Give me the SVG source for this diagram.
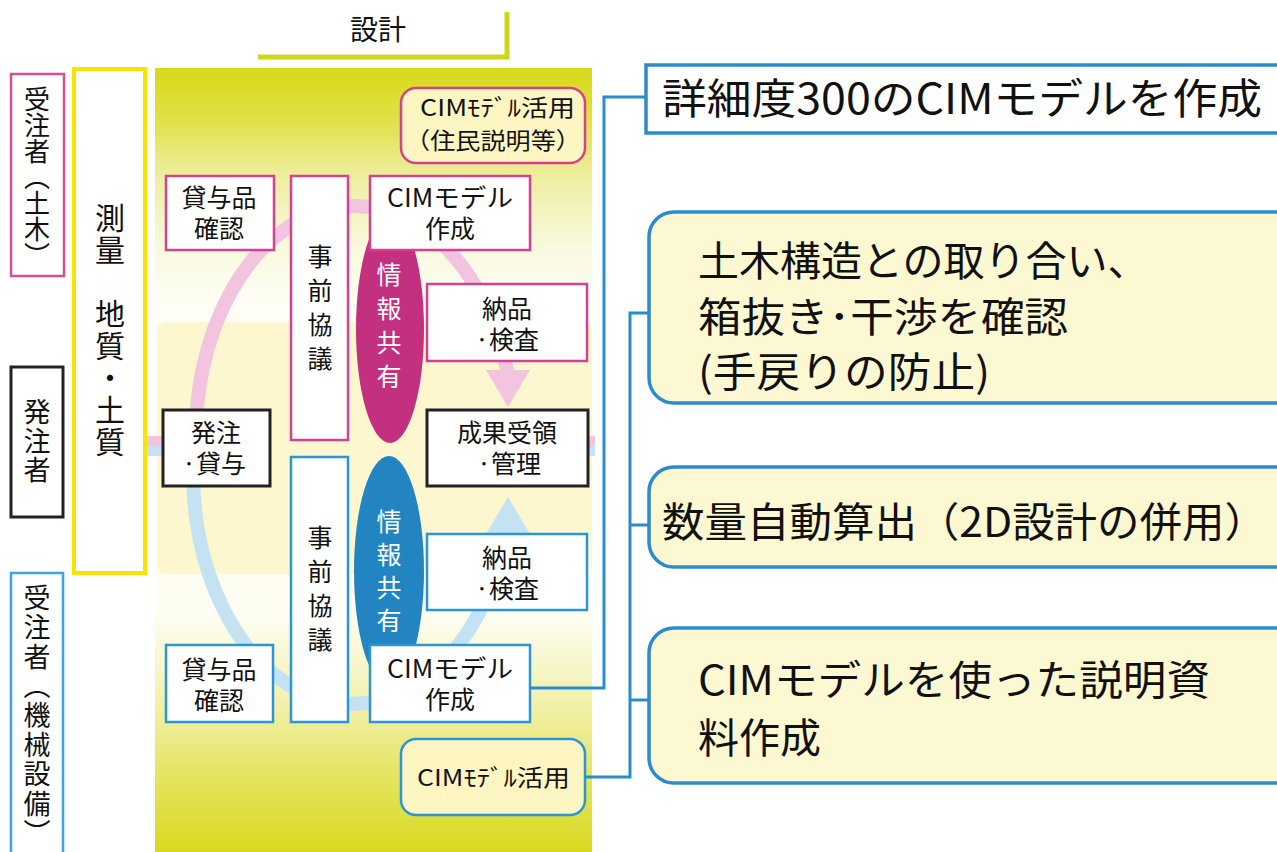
<svg xmlns="http://www.w3.org/2000/svg" width="1277" height="852" viewBox="0 0 1277 852">
<defs>
<linearGradient id="panelGrad" x1="0" y1="0" x2="0" y2="1">
<stop offset="0" stop-color="#d6d91a"/>
<stop offset="0.06" stop-color="#dfe040"/>
<stop offset="0.14" stop-color="#eeeea2"/>
<stop offset="0.23" stop-color="#f9f9de"/>
<stop offset="0.30" stop-color="#fefef6"/>
<stop offset="0.70" stop-color="#fdfdf2"/>
<stop offset="0.80" stop-color="#f3f2b2"/>
<stop offset="0.91" stop-color="#e4e35c"/>
<stop offset="1" stop-color="#d8d920"/>
</linearGradient>
<style>
.t{font-family:"Noto Sans CJK JP","Noto Sans",sans-serif;fill:#111111}
.c{text-anchor:middle}
.v{writing-mode:vertical-rl;text-anchor:start}
.w{fill:#ffffff}
.pk{fill:#ffffff;stroke:#d4428f;stroke-width:2.5}
.bl{fill:#ffffff;stroke:#2b96d6;stroke-width:2.5}
.bk{fill:#ffffff;stroke:#222222;stroke-width:3}
.rb{fill:#fcf8d2;stroke:#2b8ccc;stroke-width:3.5}
.conn{fill:none;stroke:#2b8ccc;stroke-width:3}
.bx{font-size:25px}
.big{font-size:41px}
</style>
</defs>

<g id="header">
<path d="M258 57 H507 V12" fill="none" stroke="#cfd41c" stroke-width="5"/>
<text class="t c" x="378" y="40" font-size="28">設計</text>
</g>

<g id="panel">
<rect x="155" y="68" width="437" height="784" fill="url(#panelGrad)"/>
<rect x="157" y="322" width="435" height="252" rx="9" fill="#fcf7cf"/>
</g>

<g id="cycle-arcs">
<rect x="146" y="436" width="18" height="10" fill="#f2c4e0"/>
<rect x="146" y="446" width="18" height="10" fill="#c5e2f2"/>
<rect x="587" y="436" width="8" height="10" fill="#f2c4e0"/>
<rect x="587" y="446" width="8" height="10" fill="#c5e2f2"/>
<path d="M196 448 A159 230 0 0 1 507.5 372" fill="none" stroke="#f2c4e0" stroke-width="14"/>
<polygon points="486,370 530,370 508,407" fill="#f2c4e0"/>
<path d="M194 450 A159 230 0 0 0 506 532" fill="none" stroke="#c5e2f2" stroke-width="14"/>
<polygon points="486,534 530,534 508,497" fill="#c5e2f2"/>
</g>

<g id="connectors">
<polyline class="conn" points="530,688 604,688 604,97 646,97"/>
<polyline class="conn" points="585,777 630,777 630,313 649,313"/>
<line class="conn" x1="630" y1="525" x2="649" y2="525"/>
<line class="conn" x1="630" y1="700" x2="649" y2="700"/>
</g>

<g id="role-civil">
<rect x="11" y="74" width="53" height="202" fill="#ffffff" stroke="#d94d96" stroke-width="2.5"/>
<text class="t v" x="37" y="86" font-size="26">受注者（土木）</text>
</g>
<g id="role-client">
<rect x="11" y="367" width="52" height="150" fill="#ffffff" stroke="#222222" stroke-width="3"/>
<text class="t v" x="37" y="398" font-size="27" letter-spacing="2">発注者</text>
</g>
<g id="role-mech">
<rect x="11" y="573" width="52" height="290" fill="#ffffff" stroke="#3aa6e0" stroke-width="2.5"/>
<text class="t v" x="37" y="584" font-size="27" letter-spacing="2.4">受注者（機械設備）</text>
</g>
<g id="survey">
<rect x="74" y="69" width="71" height="504" fill="#ffffff" stroke="#f7e500" stroke-width="4"/>
<text class="t v" x="110" y="203" font-size="30" letter-spacing="2">測量　地質・土質</text>
</g>

<g id="cim-use-top">
<rect x="401" y="88" width="184" height="75" rx="15" fill="#fdf6c2" stroke="#d4428f" stroke-width="2.5"/>
<text class="t" font-size="23"><tspan x="420" y="116" textLength="155" lengthAdjust="spacingAndGlyphs">CIMﾓﾃﾞﾙ活用</tspan><tspan x="405" y="149" textLength="176" lengthAdjust="spacingAndGlyphs">（住民説明等）</tspan></text>
</g>

<g id="loan-check-top">
<rect class="pk" x="166" y="176" width="108" height="74"/>
<text class="t c bx"><tspan x="219" y="207">貸与品</tspan><tspan x="219" y="238">確認</tspan></text>
</g>
<g id="prior-consult-top">
<rect class="pk" x="291" y="176" width="57" height="264"/>
<text class="t v bx" x="320" y="244" letter-spacing="9">事前協議</text>
</g>
<g id="info-share-top">
<ellipse cx="390" cy="329" rx="34" ry="114" fill="#c2307f"/>
<text class="t v w" x="389" y="262" font-size="25" letter-spacing="9">情報共有</text>
</g>
<g id="cim-create-top">
<rect class="pk" x="370" y="176" width="160" height="74"/>
<text class="t bx"><tspan x="387" y="207" textLength="126" lengthAdjust="spacingAndGlyphs">CIMモデル</tspan><tspan x="425" y="238">作成</tspan></text>
</g>
<g id="delivery-top">
<rect class="pk" x="427" y="284" width="160" height="77"/>
<text class="t c bx"><tspan x="507" y="318">納品</tspan><tspan x="507" y="349">·検査</tspan></text>
</g>

<g id="order-loan">
<rect class="bk" x="163" y="410" width="107" height="76"/>
<text class="t c bx"><tspan x="216" y="442">発注</tspan><tspan x="214" y="473">·貸与</tspan></text>
</g>
<g id="result-manage">
<rect class="bk" x="427" y="410" width="161" height="76"/>
<text class="t c bx"><tspan x="507" y="442">成果受領</tspan><tspan x="509" y="473">·管理</tspan></text>
</g>

<g id="prior-consult-bottom">
<rect class="bl" x="291" y="457" width="57" height="265"/>
<text class="t v bx" x="320" y="525" letter-spacing="9">事前協議</text>
</g>
<g id="info-share-bottom">
<ellipse cx="389" cy="571" rx="35" ry="115" fill="#2285c2"/>
<text class="t v w" x="389" y="509" font-size="25" letter-spacing="8">情報共有</text>
</g>
<g id="delivery-bottom">
<rect class="bl" x="427" y="534" width="160" height="76"/>
<text class="t c bx"><tspan x="507" y="567">納品</tspan><tspan x="507" y="598">·検査</tspan></text>
</g>
<g id="loan-check-bottom">
<rect class="bl" x="166" y="645" width="107" height="77"/>
<text class="t c bx"><tspan x="219" y="679">貸与品</tspan><tspan x="219" y="710">確認</tspan></text>
</g>
<g id="cim-create-bottom">
<rect class="bl" x="370" y="645" width="160" height="77"/>
<text class="t bx"><tspan x="387" y="678" textLength="126" lengthAdjust="spacingAndGlyphs">CIMモデル</tspan><tspan x="425" y="709">作成</tspan></text>
</g>
<g id="cim-use-bottom">
<rect x="401" y="739" width="184" height="76" rx="15" fill="#fdf6c2" stroke="#2b96d6" stroke-width="2.5"/>
<text class="t" x="417" y="786" font-size="23" textLength="153" lengthAdjust="spacingAndGlyphs">CIMﾓﾃﾞﾙ活用</text>
</g>

<g id="note-detail">
<rect x="646" y="65" width="660" height="68" fill="#ffffff" stroke="#2b8ccc" stroke-width="3.5"/>
<text class="t" x="662" y="114" font-size="42" textLength="600" lengthAdjust="spacingAndGlyphs">詳細度300のCIMモデルを作成</text>
</g>
<g id="note-interference">
<rect class="rb" x="649" y="212" width="660" height="191" rx="25"/>
<text class="t big"><tspan x="698" y="276">土木構造との取り合い、</tspan><tspan x="698" y="332" textLength="370" lengthAdjust="spacingAndGlyphs">箱抜き･干渉を確認</tspan><tspan x="698" y="387" textLength="292" lengthAdjust="spacingAndGlyphs">(手戻りの防止)</tspan></text>
</g>
<g id="note-quantity">
<rect class="rb" x="649" y="467" width="660" height="100" rx="25"/>
<text class="t big" x="662" y="537" textLength="605" lengthAdjust="spacingAndGlyphs">数量自動算出（2D設計の併用）</text>
</g>
<g id="note-explain">
<rect class="rb" x="649" y="628" width="660" height="155" rx="25"/>
<text class="t big"><tspan x="698" y="695" textLength="512" lengthAdjust="spacingAndGlyphs">CIMモデルを使った説明資</tspan><tspan x="698" y="753">料作成</tspan></text>
</g>
</svg>
